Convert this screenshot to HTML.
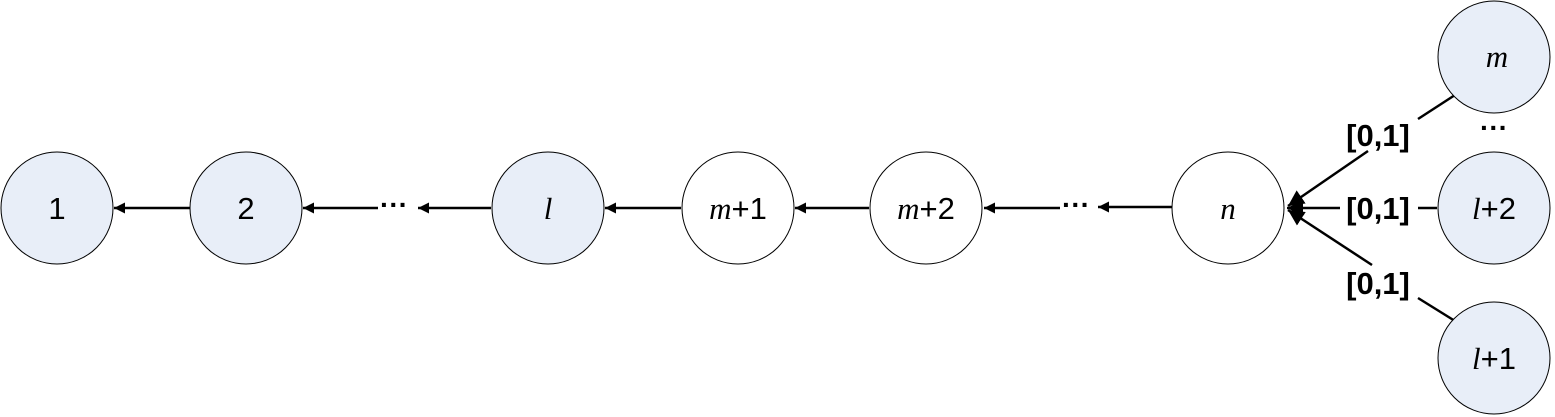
<!DOCTYPE html>
<html><head><meta charset="utf-8"><style>
html,body{margin:0;padding:0;background:#fff;width:1555px;height:417px;overflow:hidden}
text{font-family:"Liberation Sans",sans-serif}
.it{font-family:"Liberation Serif",serif;font-style:italic}
</style></head><body>
<svg width="1555" height="417" viewBox="0 0 1555 417">
<defs><marker id="ah" viewBox="0 0 10 10" refX="10" refY="5" markerWidth="12" markerHeight="11" orient="auto" markerUnits="userSpaceOnUse"><path d="M0,0 L10,5 L0,10 z" fill="#000"/></marker>
<marker id="ah2" viewBox="0 0 10 10" refX="10" refY="5" markerWidth="16" markerHeight="16" orient="auto" markerUnits="userSpaceOnUse"><path d="M0,0 L10,5 L0,10 z" fill="#000"/></marker></defs>
<g stroke="#000" stroke-width="2.5" fill="none">
<line x1="190" y1="208" x2="114" y2="208" marker-end="url(#ah)"/>
<line x1="378" y1="208" x2="303" y2="208" marker-end="url(#ah)"/>
<line x1="491" y1="208" x2="418" y2="208" marker-end="url(#ah)"/>
<line x1="681" y1="208" x2="605" y2="208" marker-end="url(#ah)"/>
<line x1="869" y1="208" x2="795" y2="208" marker-end="url(#ah)"/>
<line x1="1060" y1="208" x2="984" y2="208" marker-end="url(#ah)"/>
<line x1="1172" y1="207" x2="1098" y2="207" marker-end="url(#ah)"/>
<line x1="1368" y1="151" x2="1288" y2="206" marker-end="url(#ah2)"/>
<line x1="1340" y1="208" x2="1287" y2="208" marker-end="url(#ah2)"/>
<line x1="1372" y1="265" x2="1288" y2="210" marker-end="url(#ah2)"/>
<line x1="1418" y1="119" x2="1455" y2="95"/>
<line x1="1418" y1="208" x2="1437" y2="208"/>
<line x1="1418" y1="298" x2="1455" y2="321"/>
</g>
<g font-size="28" font-weight="bold" text-anchor="middle">
<text x="394" y="214">···</text><text x="1076" y="214">···</text><text x="1494" y="137">···</text>
</g>
<g stroke="#000" stroke-width="1">
<circle cx="57" cy="208" r="56" fill="#e8eef8"/>
<circle cx="246" cy="208" r="56" fill="#e8eef8"/>
<circle cx="548" cy="208" r="56" fill="#e8eef8"/>
<circle cx="738" cy="208" r="56" fill="#fff"/>
<circle cx="926" cy="208" r="56" fill="#fff"/>
<circle cx="1228" cy="208" r="56" fill="#fff"/>
<circle cx="1494" cy="57" r="56" fill="#e8eef8"/>
<circle cx="1494" cy="208" r="56" fill="#e8eef8"/>
<circle cx="1494" cy="358" r="56" fill="#e8eef8"/>
</g>
<g font-size="31" text-anchor="middle">
<text x="57" y="219">1</text>
<text x="246" y="219">2</text>
<text x="548" y="219" class="it">l</text>
<text x="738" y="219"><tspan class="it">m</tspan>+1</text>
<text x="926" y="219"><tspan class="it">m</tspan>+2</text>
<text x="1228" y="219" class="it">n</text>
<text x="1497" y="67" class="it">m</text>
<text x="1494" y="219"><tspan class="it">l</tspan>+2</text>
<text x="1494" y="369"><tspan class="it">l</tspan>+1</text>
</g>
<g font-size="31" font-weight="bold" text-anchor="middle">
<text x="1378" y="146">[0,1]</text>
<text x="1378" y="219">[0,1]</text>
<text x="1378" y="294">[0,1]</text>
</g>
</svg>
</body></html>
